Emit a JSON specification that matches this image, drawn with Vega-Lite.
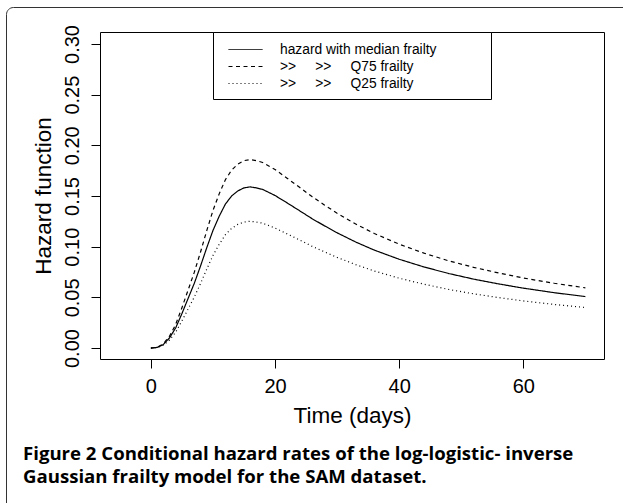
{
  "$schema": "https://vega.github.io/schema/vega-lite/v6.json",
  "width": 504,
  "height": 327,
  "autosize": {"type": "none"},
  "padding": {"left": 100, "top": 32, "right": 19, "bottom": 144},
  "background": "white",
  "config": {
    "view": {"stroke": "black", "strokeWidth": 1},
    "font": "Liberation Sans",
    "axis": {
      "grid": false,
      "domain": false,
      "tickColor": "black",
      "tickSize": 9,
      "tickWidth": 1,
      "labelFont": "Liberation Sans",
      "labelFontSize": 20,
      "labelColor": "black",
      "titleFont": "Liberation Sans",
      "titleFontSize": 22.5,
      "titleFontWeight": "normal",
      "titleColor": "black"
    }
  },
  "title": {
    "text": ["Figure 2 Conditional hazard rates of the log-logistic- inverse", "Gaussian frailty model for the SAM dataset."],
    "orient": "bottom",
    "anchor": "start",
    "frame": "group",
    "dx": -77,
    "offset": -68,
    "font": "Open Sans",
    "fontSize": 18.6,
    "fontWeight": "bold",
    "lineHeight": 23,
    "baseline": "alphabetic",
    "color": "black"
  },
  "data": {
    "values": [
      {"t": 0, "h": 0, "series": "median"},
      {"t": 1, "h": 0.0006, "series": "median"},
      {"t": 2, "h": 0.0035, "series": "median"},
      {"t": 3, "h": 0.010, "series": "median"},
      {"t": 4, "h": 0.020, "series": "median"},
      {"t": 5, "h": 0.034, "series": "median"},
      {"t": 6, "h": 0.049, "series": "median"},
      {"t": 7, "h": 0.064, "series": "median"},
      {"t": 8, "h": 0.081, "series": "median"},
      {"t": 9, "h": 0.099, "series": "median"},
      {"t": 10, "h": 0.116, "series": "median"},
      {"t": 11, "h": 0.130, "series": "median"},
      {"t": 12, "h": 0.142, "series": "median"},
      {"t": 13, "h": 0.150, "series": "median"},
      {"t": 14, "h": 0.155, "series": "median"},
      {"t": 15, "h": 0.158, "series": "median"},
      {"t": 16, "h": 0.159, "series": "median"},
      {"t": 17, "h": 0.158, "series": "median"},
      {"t": 18, "h": 0.1565, "series": "median"},
      {"t": 20, "h": 0.1505, "series": "median"},
      {"t": 22, "h": 0.143, "series": "median"},
      {"t": 24, "h": 0.1353, "series": "median"},
      {"t": 26, "h": 0.1275, "series": "median"},
      {"t": 28, "h": 0.1205, "series": "median"},
      {"t": 30, "h": 0.1137, "series": "median"},
      {"t": 33, "h": 0.1046, "series": "median"},
      {"t": 36, "h": 0.0966, "series": "median"},
      {"t": 40, "h": 0.0876, "series": "median"},
      {"t": 44, "h": 0.0800, "series": "median"},
      {"t": 48, "h": 0.0735, "series": "median"},
      {"t": 52, "h": 0.0680, "series": "median"},
      {"t": 56, "h": 0.0633, "series": "median"},
      {"t": 60, "h": 0.0591, "series": "median"},
      {"t": 65, "h": 0.0546, "series": "median"},
      {"t": 70, "h": 0.0508, "series": "median"},
      {"t": 0, "h": 0, "series": "Q75"},
      {"t": 1, "h": 0.0007, "series": "Q75"},
      {"t": 2, "h": 0.0041, "series": "Q75"},
      {"t": 3, "h": 0.0117, "series": "Q75"},
      {"t": 4, "h": 0.0234, "series": "Q75"},
      {"t": 5, "h": 0.0398, "series": "Q75"},
      {"t": 6, "h": 0.0573, "series": "Q75"},
      {"t": 7, "h": 0.0749, "series": "Q75"},
      {"t": 8, "h": 0.0948, "series": "Q75"},
      {"t": 9, "h": 0.1158, "series": "Q75"},
      {"t": 10, "h": 0.1357, "series": "Q75"},
      {"t": 11, "h": 0.1521, "series": "Q75"},
      {"t": 12, "h": 0.1661, "series": "Q75"},
      {"t": 13, "h": 0.1755, "series": "Q75"},
      {"t": 14, "h": 0.1814, "series": "Q75"},
      {"t": 15, "h": 0.1849, "series": "Q75"},
      {"t": 16, "h": 0.1860, "series": "Q75"},
      {"t": 17, "h": 0.1849, "series": "Q75"},
      {"t": 18, "h": 0.1831, "series": "Q75"},
      {"t": 20, "h": 0.1761, "series": "Q75"},
      {"t": 22, "h": 0.1673, "series": "Q75"},
      {"t": 24, "h": 0.1583, "series": "Q75"},
      {"t": 26, "h": 0.1492, "series": "Q75"},
      {"t": 28, "h": 0.1410, "series": "Q75"},
      {"t": 30, "h": 0.1330, "series": "Q75"},
      {"t": 33, "h": 0.1224, "series": "Q75"},
      {"t": 36, "h": 0.1130, "series": "Q75"},
      {"t": 40, "h": 0.1025, "series": "Q75"},
      {"t": 44, "h": 0.0936, "series": "Q75"},
      {"t": 48, "h": 0.0860, "series": "Q75"},
      {"t": 52, "h": 0.0796, "series": "Q75"},
      {"t": 56, "h": 0.0741, "series": "Q75"},
      {"t": 60, "h": 0.0691, "series": "Q75"},
      {"t": 65, "h": 0.0639, "series": "Q75"},
      {"t": 70, "h": 0.0594, "series": "Q75"},
      {"t": 0, "h": 0, "series": "Q25"},
      {"t": 1, "h": 0.0005, "series": "Q25"},
      {"t": 2, "h": 0.0028, "series": "Q25"},
      {"t": 3, "h": 0.0079, "series": "Q25"},
      {"t": 4, "h": 0.0157, "series": "Q25"},
      {"t": 5, "h": 0.0268, "series": "Q25"},
      {"t": 6, "h": 0.0386, "series": "Q25"},
      {"t": 7, "h": 0.0504, "series": "Q25"},
      {"t": 8, "h": 0.0637, "series": "Q25"},
      {"t": 9, "h": 0.0779, "series": "Q25"},
      {"t": 10, "h": 0.0913, "series": "Q25"},
      {"t": 11, "h": 0.1023, "series": "Q25"},
      {"t": 12, "h": 0.1118, "series": "Q25"},
      {"t": 13, "h": 0.1181, "series": "Q25"},
      {"t": 14, "h": 0.1220, "series": "Q25"},
      {"t": 15, "h": 0.1243, "series": "Q25"},
      {"t": 16, "h": 0.1251, "series": "Q25"},
      {"t": 17, "h": 0.1243, "series": "Q25"},
      {"t": 18, "h": 0.1232, "series": "Q25"},
      {"t": 20, "h": 0.1184, "series": "Q25"},
      {"t": 22, "h": 0.1125, "series": "Q25"},
      {"t": 24, "h": 0.1065, "series": "Q25"},
      {"t": 26, "h": 0.1003, "series": "Q25"},
      {"t": 28, "h": 0.0948, "series": "Q25"},
      {"t": 30, "h": 0.0895, "series": "Q25"},
      {"t": 33, "h": 0.0823, "series": "Q25"},
      {"t": 36, "h": 0.0760, "series": "Q25"},
      {"t": 40, "h": 0.0689, "series": "Q25"},
      {"t": 44, "h": 0.0630, "series": "Q25"},
      {"t": 48, "h": 0.0578, "series": "Q25"},
      {"t": 52, "h": 0.0535, "series": "Q25"},
      {"t": 56, "h": 0.0498, "series": "Q25"},
      {"t": 60, "h": 0.0465, "series": "Q25"},
      {"t": 65, "h": 0.0430, "series": "Q25"},
      {"t": 70, "h": 0.0400, "series": "Q25"}
    ]
  },
  "encoding": {
    "x": {
      "field": "t",
      "type": "quantitative",
      "scale": {"domain": [-8.2, 73], "nice": false, "zero": false},
      "axis": {"values": [0, 20, 40, 60], "title": "Time (days)", "labelPadding": 8, "titlePadding": 8}
    },
    "y": {
      "field": "h",
      "type": "quantitative",
      "scale": {"domain": [-0.0108, 0.3118], "nice": false, "zero": false},
      "axis": {
        "values": [0, 0.05, 0.1, 0.15, 0.2, 0.25, 0.3],
        "format": ".2f",
        "title": "Hazard function",
        "labelAngle": -90,
        "labelAlign": "center",
        "labelBaseline": "alphabetic",
        "labelPadding": 13,
        "titlePadding": 7
      }
    }
  },
  "layer": [
    {
      "mark": {"type": "line", "strokeWidth": 1.2, "color": "black"},
      "encoding": {
        "strokeDash": {
          "field": "series",
          "type": "nominal",
          "scale": {"domain": ["median", "Q75", "Q25"], "range": [[1, 0], [4, 3.5], [1, 3]]},
          "legend": {
            "orient": "none",
            "legendX": 113,
            "legendY": 0,
            "title": null,
            "labelExpr": "datum.value == 'median' ? 'hazard with median frailty\u00a0\u00a0\u00a0\u00a0\u00a0\u00a0\u00a0\u00a0\u00a0\u00a0\u00a0\u00a0\u200b' : '\u00a0\u00a0\u00a0>>\u00a0\u00a0\u00a0\u00a0\u00a0>>\u00a0\u00a0\u00a0\u00a0\u00a0' + datum.value + ' frailty'",
            "strokeColor": "black",
            "fillColor": "white",
            "padding": 8.5,
            "cornerRadius": 0,
            "symbolType": "M-2,0H2",
            "symbolSize": 289,
            "symbolStrokeWidth": 1,
            "symbolStrokeColor": "black",
            "symbolOffset": 15,
            "labelOffset": 25.5,
            "labelFont": "Liberation Sans",
            "labelFontSize": 13.8,
            "labelColor": "black",
            "labelLimit": 400,
            "rowPadding": 1
          }
        }
      }
    },
    {
      "mark": {"type": "point", "opacity": 0},
      "encoding": {
        "color": {
          "field": "h",
          "type": "quantitative",
          "scale": {"range": ["transparent", "transparent"]},
          "legend": {
            "orient": "none",
            "legendX": -94,
            "legendY": -25,
            "direction": "horizontal",
            "title": null,
            "labels": false,
            "values": [],
            "ticks": false,
            "gradientLength": 700,
            "gradientThickness": 520,
            "gradientStrokeWidth": 0,
            "gradientStrokeColor": "transparent",
            "strokeColor": "#333",
            "fillColor": "transparent",
            "cornerRadius": 7,
            "padding": 0
          }
        }
      }
    }
  ]
}
